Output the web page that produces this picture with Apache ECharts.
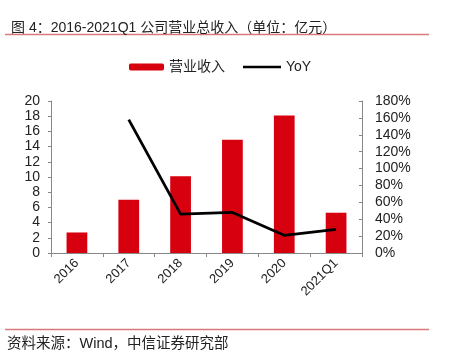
<!DOCTYPE html>
<html><head><meta charset="utf-8">
<script src="https://cdn.jsdelivr.net/npm/echarts@6/dist/echarts.min.js"></script>
<style>html,body{margin:0;padding:0;background:#fff}#c{width:474px;height:362px}</style>
</head><body><div id="c"></div>
<script>
var categories = ['2016', '2017', '2018', '2019', '2020', '2021Q1'];
var revenue = [2.7, 7.0, 10.1, 14.9, 18.1, 5.3];
var yoy = [null, 1.58, 0.46, 0.48, 0.21, 0.28];
var titleText = '图 4：2016-2021Q1 公司营业总收入（单位：亿元）';
var sourceText = '资料来源：Wind，中信证券研究部';
var FONT = '"Liberation Sans", Arial, "Noto Sans CJK SC", sans-serif';

var chart = echarts.init(document.getElementById('c'), null, {renderer: 'canvas'});
chart.setOption({
  animation: false,
  textStyle: {fontFamily: FONT},
  title: {text: titleText, left: 6, top: 16, textStyle: {fontSize: 14, fontWeight: 'normal', color: '#222', fontFamily: FONT}},
  graphic: [
    {type: 'line', shape: {x1: 5, y1: 34.5, x2: 429, y2: 34.5}, style: {stroke: '#d9787b', lineWidth: 1.5}},
    {type: 'line', shape: {x1: 5, y1: 329.5, x2: 429, y2: 329.5}, style: {stroke: '#d9787b', lineWidth: 1.5}},
    {type: 'text', left: 7, top: 337, style: {text: sourceText, fontSize: 14.5, fill: '#222', fontFamily: FONT}}
  ],
  legend: [
    {data: ['营业收入'], left: 124, top: 55, itemWidth: 35, itemHeight: 7, textStyle: {fontSize: 14, color: '#222', fontFamily: FONT}},
    {data: [{name: 'YoY', icon: 'rect'}], left: 238, top: 55, itemWidth: 38, itemHeight: 2.5, textStyle: {fontSize: 14, color: '#222', fontFamily: FONT}}
  ],
  grid: {left: 51, right: 112, top: 101, bottom: 109},
  xAxis: {
    type: 'category', data: categories, boundaryGap: true,
    axisLine: {lineStyle: {color: '#888'}},
    axisTick: {show: true, inside: false, length: 4, lineStyle: {color: '#888'}},
    axisLabel: {rotate: 45, fontSize: 13, color: '#222', margin: 8, fontFamily: FONT}
  },
  yAxis: [
    {type: 'value', min: 0, max: 20, interval: 2,
     axisLine: {show: true, lineStyle: {color: '#888'}},
     axisTick: {show: true, length: 3, lineStyle: {color: '#888'}},
     splitLine: {show: false},
     axisLabel: {fontSize: 14, color: '#222', margin: 11, fontFamily: FONT}},
    {type: 'value', min: 0, max: 1.8, interval: 0.2, position: 'right',
     axisLine: {show: true, lineStyle: {color: '#888'}},
     axisTick: {show: true, inside: true, length: 3, lineStyle: {color: '#888'}},
     splitLine: {show: false},
     axisLabel: {fontSize: 14, color: '#222', margin: 13, fontFamily: FONT,
       formatter: function (v) { return Math.round(v * 100) + '%'; }}}
  ],
  series: [
    {name: '营业收入', type: 'bar', data: revenue, barWidth: '40%', itemStyle: {color: '#d7000f'}},
    {name: 'YoY', type: 'line', yAxisIndex: 1, data: yoy, symbol: 'none', connectNulls: false,
     lineStyle: {color: '#000', width: 2.8}, itemStyle: {color: '#000'}}
  ]
});
</script></body></html>
